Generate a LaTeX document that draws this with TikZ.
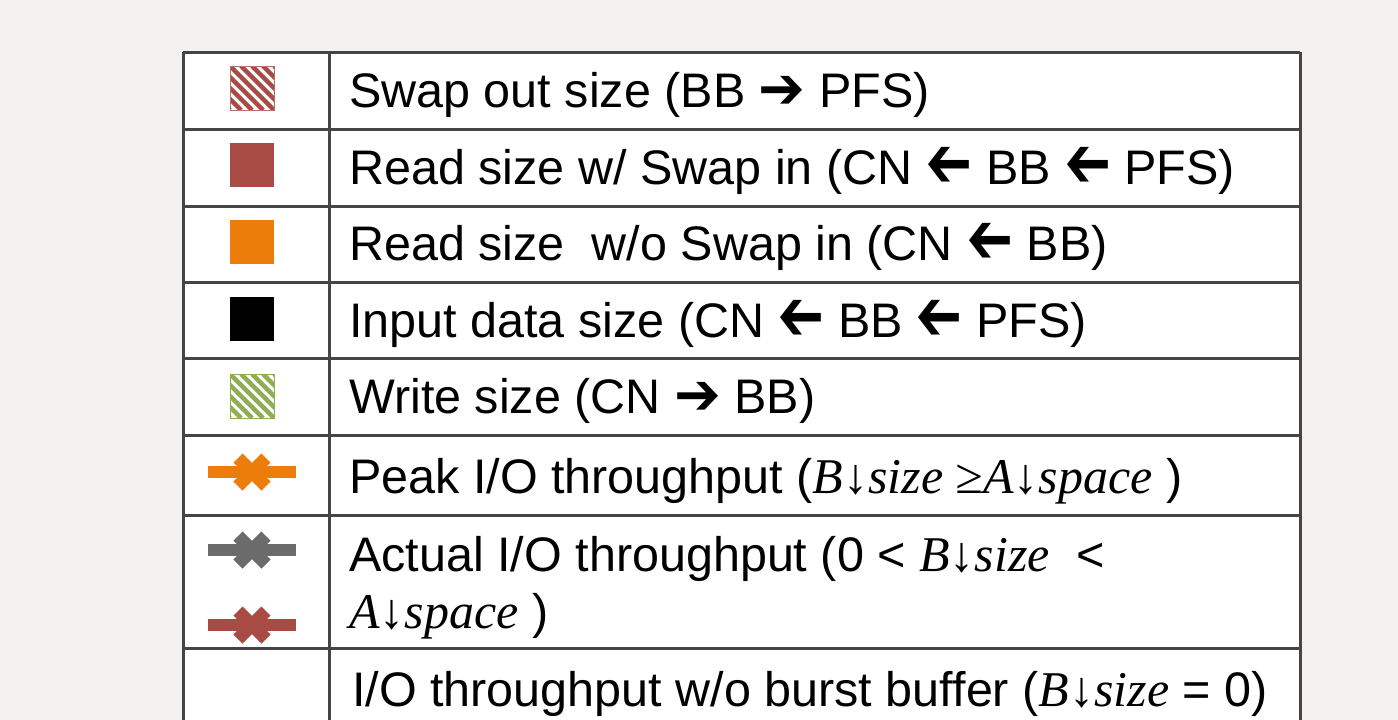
\documentclass[tikz,border=0pt]{standalone}
\usepackage{fontspec}
\usepackage{graphicx}
\setmainfont{Liberation Sans}
\newfontfamily\serifit{Liberation Serif}
\newfontfamily\flechas{DejaVu Sans}

\definecolor{rojo}{HTML}{A84B45}
\definecolor{naranja}{HTML}{ED7D0A}
\definecolor{gris}{HTML}{6B6B6B}
\definecolor{verde}{HTML}{8EAE52}
\definecolor{fondo}{HTML}{F3F2F0}
\definecolor{borde}{HTML}{454545}

\newcommand{\mvar}[1]{{\serifit\itshape\fontsize{50}{56}\selectfont #1}}
\newcommand{\der}{\raisebox{-1pt}{\scalebox{1.15}[1.2]{\flechas ➔}}}
\newcommand{\izq}{\raisebox{-3pt}{\scalebox{-1.15}[1.5]{\flechas ➔}}}

\begin{document}
\begin{tikzpicture}[
  x=1pt, y=-1pt,
  etiq/.style={anchor=base west, inner sep=0pt, font=\fontsize{48.5}{54}\selectfont},
  regla/.style={line width=3pt, draw=borde},
  barra/.style={line width=12pt},
  cruz/.style={line width=13pt}
]

  % Fondo y tabla
  \useasboundingbox (0,0) rectangle (1398,720);
  \fill[fondo] (0,0) rectangle (1398,720);
  \fill[white] (183,52) rectangle (1300,720);

  % Líneas de la tabla
  \foreach \y in {52,129,206,282,358,435,515,648}
    \draw[regla] (183,\y) -- (1300,\y);
  \draw[regla] (183,52) -- (183,720);
  \draw[regla] (329,52) -- (329,720);
  \draw[regla] (1300,52) -- (1300,720);

  % Muestras rayadas
  \begin{scope}
    \clip (230,66) rectangle (274,110);
    \fill[white] (230,66) rectangle (274,110);
    \foreach \k in {-55,-44,...,55}
      \draw[rojo, line width=4.3pt] (230+\k,66) -- (274+\k,110);
  \end{scope}
  \draw[rojo!80, line width=0.8pt] (230,66) rectangle (274,110);
  \begin{scope}
    \clip (230,374) rectangle (274,418);
    \fill[white] (230,374) rectangle (274,418);
    \foreach \k in {-55,-44,...,55}
      \draw[verde, line width=4.3pt] (230+\k,374) -- (274+\k,418);
  \end{scope}
  \draw[verde, line width=0.8pt] (230,374) rectangle (274,418);

  % Muestras llenas
  \fill[rojo] (230,143) rectangle (274,187);
  \fill[naranja] (230,220) rectangle (274,264);
  \fill[black] (230,297) rectangle (274,341);

  % Marcadores de línea
  \draw[barra, naranja] (208,472) -- (296,472);
  \draw[cruz, naranja] (238,458) -- (266,486) (238,486) -- (266,458);
  \draw[barra, gris] (208,550) -- (296,550);
  \draw[cruz, gris] (238,536) -- (266,564) (238,564) -- (266,536);
  \draw[barra, rojo] (208,625) -- (296,625);
  \draw[cruz, rojo] (238,611) -- (266,639) (238,639) -- (266,611);

  % Textos
  \node[etiq] (t1) at (349,107) {Swap out size (BB \der{} PFS)};
  \node[etiq] (t2) at (349,184) {Read size w/ Swap in (CN \izq{} BB \izq{} PFS)};
  \node[etiq] (t3) at (349,260) {Read size\ \ w/o Swap in (CN \izq{} BB)};
  \node[etiq] (t4) at (349,337) {Input data size (CN \izq{} BB \izq{} PFS)};
  \node[etiq] (t5) at (349,413) {Write size (CN \der{} BB)};
  \node[etiq] (t6) at (349,493) {Peak I/O throughput (\mvar{B↓size ≥A↓space} )};
  \node[etiq] (t7) at (349,571) {Actual I/O throughput (0 < \mvar{B↓size} \ <};
  \node[etiq] (t7b) at (349,628) {\mvar{A↓space} )};
  \node[etiq] (t8) at (352,706) {I/O throughput w/o burst buffer (\mvar{B↓size} = 0)};

\end{tikzpicture}
\end{document}
